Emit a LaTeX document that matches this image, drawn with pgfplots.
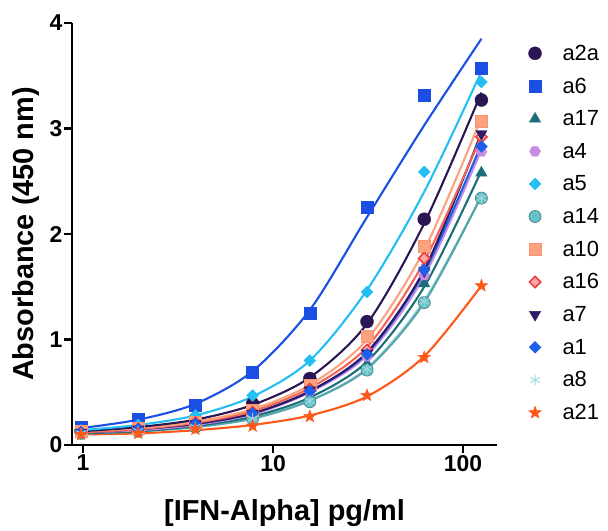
\documentclass[border=0pt]{standalone}
\usepackage{fontspec}
\setmainfont{Liberation Sans}
\usepackage{pgfplots}
\usepackage{pgfplotstable}
\pgfplotsset{compat=1.18}
\usetikzlibrary{plotmarks}

\definecolor{cA2a}{HTML}{2B1654}
\definecolor{cA6}{HTML}{1B4FE4}
\definecolor{cA17}{HTML}{1C6E78}
\definecolor{cA4}{HTML}{C78BE3}
\definecolor{cA5}{HTML}{25BEF3}
\definecolor{cA14}{HTML}{64C2C8}
\definecolor{cA10}{HTML}{FBA27E}
\definecolor{cA16}{HTML}{F03A3A}
\definecolor{cA7}{HTML}{2D1A68}
\definecolor{cA1}{HTML}{1D5FE8}
\definecolor{cA8}{HTML}{A2D8E2}
\definecolor{cA21}{HTML}{FF5718}

% filled hexagon and filled star marks
\pgfdeclareplotmark{hexagon*}{%
  \pgfpathmoveto{\pgfpointpolar{0}{\pgfplotmarksize}}%
  \pgfpathlineto{\pgfpointpolar{60}{\pgfplotmarksize}}%
  \pgfpathlineto{\pgfpointpolar{120}{\pgfplotmarksize}}%
  \pgfpathlineto{\pgfpointpolar{180}{\pgfplotmarksize}}%
  \pgfpathlineto{\pgfpointpolar{240}{\pgfplotmarksize}}%
  \pgfpathlineto{\pgfpointpolar{300}{\pgfplotmarksize}}%
  \pgfpathclose\pgfusepathqfillstroke}
\pgfdeclareplotmark{fstar}{%
  \pgfpathmoveto{\pgfpointpolar{90}{1.2\pgfplotmarksize}}%
  \pgfpathlineto{\pgfpointpolar{126}{0.5\pgfplotmarksize}}%
  \pgfpathlineto{\pgfpointpolar{162}{1.2\pgfplotmarksize}}%
  \pgfpathlineto{\pgfpointpolar{198}{0.5\pgfplotmarksize}}%
  \pgfpathlineto{\pgfpointpolar{234}{1.2\pgfplotmarksize}}%
  \pgfpathlineto{\pgfpointpolar{270}{0.5\pgfplotmarksize}}%
  \pgfpathlineto{\pgfpointpolar{306}{1.2\pgfplotmarksize}}%
  \pgfpathlineto{\pgfpointpolar{342}{0.5\pgfplotmarksize}}%
  \pgfpathlineto{\pgfpointpolar{18}{1.2\pgfplotmarksize}}%
  \pgfpathlineto{\pgfpointpolar{54}{0.5\pgfplotmarksize}}%
  \pgfpathclose\pgfusepathqfillstroke}

% measured points
\pgfplotstableread{
x      a2a   a6    a17   a4    a5    a14   a10   a16   a7    a1    a8    a21
0.977  0.135 0.17  0.11  0.12  0.14  0.11  0.13  0.12  0.12  0.12  0.11  0.10
1.953  0.17  0.24  0.13  0.14  0.19  0.13  0.16  0.15  0.15  0.15  0.13  0.11
3.906  0.24  0.38  0.18  0.19  0.28  0.17  0.22  0.21  0.20  0.20  0.17  0.15
7.8125 0.39  0.69  0.27  0.29  0.47  0.25  0.33  0.31  0.30  0.30  0.25  0.18
15.625 0.63  1.25  0.46  0.51  0.80  0.41  0.57  0.53  0.52  0.51  0.42  0.27
31.25  1.17  2.25  0.77  0.84  1.45  0.71  1.03  0.90  0.87  0.86  0.72  0.47
62.5   2.14  3.32  1.53  1.61  2.59  1.35  1.88  1.77  1.65  1.66  1.36  0.83
125    3.27  3.57  2.58  2.78  3.44  2.34  3.07  2.92  2.95  2.83  2.34  1.51
}\pts

% fitted curves, read off the picture at the same concentrations
\pgfplotstableread{
x      a2a   a6    a17   a4    a5    a14   a10   a16   a7    a1    a8    a21
0.977  0.13  0.16  0.11  0.12  0.14  0.11  0.13  0.12  0.12  0.12  0.11  0.10
1.953  0.17  0.24  0.13  0.14  0.19  0.13  0.16  0.15  0.15  0.15  0.13  0.11
3.906  0.24  0.39  0.18  0.19  0.28  0.17  0.22  0.21  0.20  0.20  0.17  0.14
7.8125 0.38  0.70  0.27  0.29  0.46  0.25  0.34  0.32  0.30  0.30  0.25  0.19
15.625 0.64  1.28  0.45  0.50  0.80  0.42  0.57  0.54  0.51  0.51  0.42  0.28
31.25  1.15  2.16  0.79  0.85  1.47  0.72  1.00  0.93  0.88  0.87  0.73  0.46
62.5   2.10  3.03  1.50  1.60  2.40  1.35  1.85  1.74  1.66  1.64  1.37  0.84
125    3.34  3.85  2.60  2.80  3.54  2.36  3.10  2.93  2.96  2.85  2.36  1.51
}\fit

\begin{document}
\begin{tikzpicture}
\begin{axis}[
    scale only axis,
    width=425bp, height=422bp,
    xmode=log, log basis x=10,
    xmin=0.875, xmax=151, ymin=0, ymax=4,
    axis lines=left,
    axis line style={-, line width=2.4bp, black},
    xtick={1,10,100}, xticklabels={1,10,100},
    ytick={0,1,2,3,4}, yticklabels={0,1,2,3,4},
    xminorticks=false,
    tick align=outside, tick pos=left,
    major tick length=8bp,
    tick style={line width=2.2bp, black},
    ticklabel style={font=\bfseries\fontsize{23}{23}\selectfont},
    xticklabel style={inner sep=2bp},
    yticklabel style={inner sep=1.5bp},
    xlabel={[IFN-Alpha] pg/ml},
    ylabel={Absorbance (450 nm)},
    every axis x label/.style={at={(axis description cs:0.5,-0.18)}, anchor=base,
        font=\bfseries\fontsize{29}{30}\selectfont},
    every axis y label/.style={at={(axis description cs:-0.108,0.5)}, anchor=center,
        rotate=90, font=\bfseries\fontsize{29}{30}\selectfont},
    legend style={at={(1.062,0.958)}, anchor=north west, draw=none, fill=none,
        font=\fontsize{22}{22}\selectfont, row sep=12bp, nodes={inner sep=2bp}},
    legend cell align=left,
    legend image code/.code={\path[draw=none] (0cm,0cm) -- (1.2cm,0cm);
        \draw[draw=none] plot coordinates {(0.3cm,0cm)};},
    clip=false,
]
\coordinate (o) at (rel axis cs:0,0);
% curves
\addplot[cA21, line width=2.1bp, smooth, forget plot] table[y=a21] {\fit};
\addplot[cA8, line width=2.1bp, smooth, forget plot] table[y=a8] {\fit};
\addplot[cA14!85!black, line width=2.1bp, smooth, forget plot] table[y=a14] {\fit};
\addplot[cA17, line width=2.1bp, smooth, forget plot] table[y=a17] {\fit};
\addplot[cA4, line width=2.1bp, smooth, forget plot] table[y=a4] {\fit};
\addplot[cA1, line width=2.1bp, smooth, forget plot] table[y=a1] {\fit};
\addplot[cA7, line width=2.1bp, smooth, forget plot] table[y=a7] {\fit};
\addplot[cA16!60!cA10, line width=2.1bp, smooth, forget plot] table[y=a16] {\fit};
\addplot[cA10, line width=2.1bp, smooth, forget plot] table[y=a10] {\fit};
\addplot[cA2a, line width=2.1bp, smooth, forget plot] table[y=a2a] {\fit};
\addplot[cA5, line width=2.1bp, smooth, forget plot] table[y=a5] {\fit};
\addplot[cA6, line width=2.1bp, smooth, forget plot] table[y=a6] {\fit};
% points
\addplot[only marks, mark=*, mark size=6.5bp, mark options={fill=cA2a, draw=cA2a}] table[y=a2a] {\pts};
\addplot[only marks, mark=square*, mark size=6bp, mark options={fill=cA6, draw=cA6}] table[y=a6] {\pts};
\addplot[only marks, mark=triangle*, mark size=6.5bp, mark options={fill=cA17, draw=cA17}] table[y=a17] {\pts};
\addplot[only marks, mark=hexagon*, mark size=5.5bp, mark options={fill=cA4, draw=cA4}] table[y=a4] {\pts};
\addplot[only marks, mark=square*, mark size=4.2bp, mark options={fill=cA5, draw=cA5, rotate=45}] table[y=a5] {\pts};
\addplot[only marks, mark=*, mark size=6bp, mark options={fill=cA14, draw=cA14!70!black, line width=0.8bp}] table[y=a14] {\pts};
\addplot[only marks, mark=square*, mark size=6bp, mark options={fill=cA10, draw=cA10!90!red}] table[y=a10] {\pts};
\addplot[only marks, mark=square*, mark size=4bp, mark options={fill=cA16!45!white, draw=cA16, line width=1.5bp, rotate=45}] table[y=a16] {\pts};
\addplot[only marks, mark=triangle*, mark size=6.5bp, mark options={fill=cA7, draw=cA7, rotate=180}] table[y=a7] {\pts};
\addplot[only marks, mark=square*, mark size=4.2bp, mark options={fill=cA1, draw=cA1, rotate=45}] table[y=a1] {\pts};
\addplot[only marks, mark=asterisk, mark size=5.5bp, mark options={draw=cA8, line width=1bp}] table[y=a8] {\pts};
\addplot[only marks, mark=fstar, mark size=5.5bp, mark options={fill=cA21, draw=cA21}] table[y=a21] {\pts};
\legend{a2a, a6, a17, a4, a5, a14, a10, a16, a7, a1, a8, a21}
\end{axis}
\path (o) ++(-72bp,-82bp) rectangle ++(608bp,527bp);
\end{tikzpicture}
\end{document}
